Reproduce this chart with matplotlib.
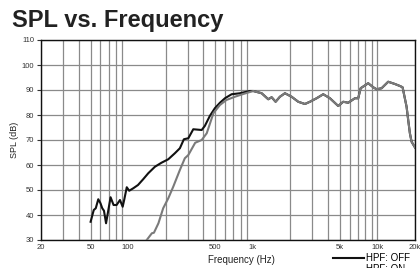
import numpy as np
import matplotlib
matplotlib.use('Agg')
import matplotlib.pyplot as plt

plt.rcParams['font.family'] = ['Liberation Sans', 'DejaVu Sans']

# HPF: OFF low end (black)
off_freq = [50, 53, 55, 57.6, 60, 62, 64, 66.5, 69, 72.3, 76.4, 80.8, 86, 90.4, 93.2, 97.5,
            102, 110, 120, 132, 145, 164, 185, 210, 237, 260, 280, 304, 333, 389, 412, 452,
            496, 545, 598, 676, 788, 945]
off_spl = [37.3, 42, 42.7, 46.3, 44.7, 42.7, 41.7, 36.7, 41.3, 47.1, 44, 44, 46, 43.3, 46.3, 51.1,
           49.7, 50.7, 52, 54.3, 56.7, 59.3, 60.9, 62.3, 64.7, 66.7, 70.3, 70.7, 74.3, 74, 75.6, 79.6,
           82.7, 84.9, 86.7, 88.3, 88.7, 89.6]

# HPF: ON low end (gray)
on_freq = [141, 155, 161, 175, 191, 210, 230, 260, 285, 304, 345, 389, 427, 483, 545, 614, 718, 838]
on_spl = [30, 32.7, 32.9, 36.7, 42.7, 46.7, 51.3, 58, 62.7, 64, 68.9, 70, 72.7, 80.7, 84, 86, 87.3, 88.4]

# both curves overlap above ~1 kHz
hf_freq = [1008, 1178, 1330, 1416, 1524, 1650, 1810, 2048, 2314, 2618, 2872, 3250, 3672, 4156,
           4844, 5312, 5824, 6592, 7008, 7326, 8426, 9242, 9840, 10790, 12190, 13800, 15140,
           15900, 17120, 17640, 18200, 18780, 20000]
hf_spl = [89.6, 88.7, 86.3, 87.1, 85.3, 87.3, 88.7, 87.3, 85.3, 84.4, 85.3, 86.7, 88.3, 86.7,
          83.6, 85.3, 84.9, 86.7, 86.7, 90.7, 92.7, 91.1, 90.3, 90.7, 93.3, 92.4, 91.6,
          91.1, 83.3, 78, 72.7, 69.3, 67]

xticks = [20, 50, 100, 500, 1000, 5000, 10000, 20000]
xtick_labels = ['20', '50', '100', '500', '1k', '5k', '10k', '20k']
yticks = [30, 40, 50, 60, 70, 80, 90, 100, 110]

fig = plt.figure(figsize=(4.2, 2.68), dpi=100)
ax = fig.add_axes([41/420, 28/268, 374/420, 200/268])

grid_c = '#8a8a8a'
minor = [m * 10**d for d in range(1, 4) for m in range(2, 10)] + [10000, 20000]
for f in minor:
    if 20 <= f <= 20000:
        ax.axvline(f, color=grid_c, lw=0.9, zorder=1)
for y in yticks:
    ax.axhline(y, color=grid_c, lw=0.9, zorder=1)

ax.plot(off_freq + hf_freq, off_spl + hf_spl, color='#111111', lw=1.5, label='HPF: OFF', zorder=3)
ax.plot(on_freq + hf_freq, on_spl + hf_spl, color='#7a7a7a', lw=1.5, label='HPF: ON', zorder=4)

ax.set_xscale('log')
ax.set_xlim(20, 20000)
ax.set_ylim(30, 110)
ax.set_xticks(xticks)
ax.set_xticklabels(xtick_labels)
ax.xaxis.set_minor_locator(matplotlib.ticker.NullLocator())
ax.set_yticks(yticks)
ax.tick_params(axis='x', length=0, pad=3, labelsize=5.5, colors='#333333')
ax.tick_params(axis='y', length=3, width=0.8, pad=2, labelsize=5.5, colors='#333333')
for s in ax.spines.values():
    s.set_color('#111111')
    s.set_linewidth(1)

ax.set_xlabel('Frequency (Hz)', fontsize=7, color='#222222')
ax.xaxis.set_label_coords(0.537, -0.075)
ax.set_ylabel('SPL (dB)', fontsize=6.5, color='#222222')
ax.yaxis.set_label_coords(-0.06, 0.5)

fig.text(12/420, 1 - 27/268, 'SPL vs. Frequency', fontsize=17, fontweight='bold',
         color='#222222', va='baseline', ha='left')

fig.legend(loc='upper left', bbox_to_anchor=(333/420, 1 - 253/268), frameon=False,
           fontsize=7, handlelength=3.2, handletextpad=0.2, labelspacing=0.15,
           borderaxespad=0, borderpad=0)

fig.savefig('out.png', dpi=100)
